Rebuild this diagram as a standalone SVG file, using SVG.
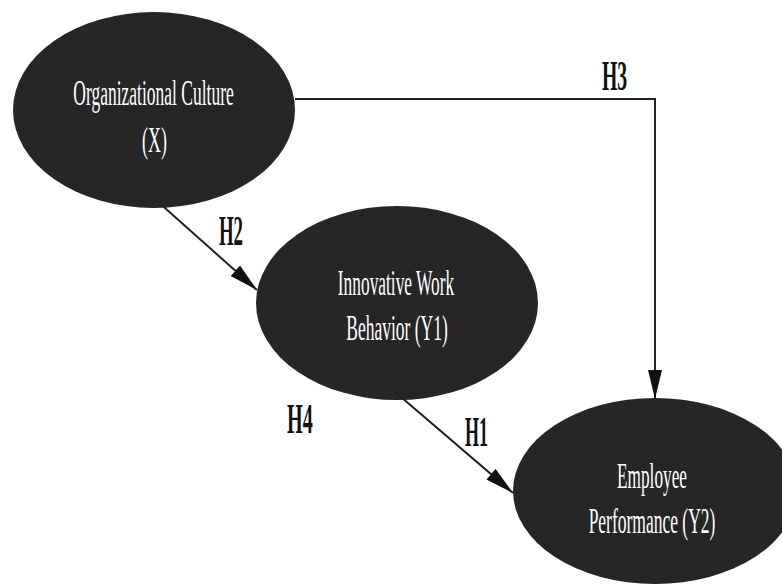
<svg xmlns="http://www.w3.org/2000/svg" width="782" height="585" viewBox="0 0 782 585">
<style>
.node{fill:#262626}
.nt{font-family:"Liberation Serif","Times New Roman",serif;font-size:35px;fill:#ffffff;text-anchor:middle}
.lbl{font-family:"Liberation Serif","Times New Roman",serif;font-size:42px;font-weight:bold;fill:#111111;text-anchor:middle}
.edge{fill:none;stroke:#222222;stroke-width:2}
</style>
<defs>
<marker id="arr" markerUnits="userSpaceOnUse" markerWidth="30" markerHeight="16" refX="29" refY="7" orient="auto">
<path d="M0,0 L29,7 L0,14 z" fill="#111111"/>
</marker>
</defs>
<rect width="782" height="585" fill="#ffffff"/>
<g id="node-x">
<ellipse class="node" cx="154" cy="110" rx="141" ry="98"/>
<text class="nt" transform="translate(153.5,105) scale(0.5,1)">Organizational Culture</text>
<text class="nt" transform="translate(154.5,152) scale(0.51,1)">(X)</text>
</g>
<g id="node-y1">
<ellipse class="node" cx="397" cy="303" rx="141" ry="97"/>
<text class="nt" transform="translate(396,295) scale(0.496,1)">Innovative Work</text>
<text class="nt" transform="translate(397,340) scale(0.5,1)">Behavior (Y1)</text>
</g>
<g id="node-y2">
<ellipse class="node" cx="655" cy="491" rx="142" ry="93"/>
<text class="nt" transform="translate(652,488) scale(0.493,1)">Employee</text>
<text class="nt" transform="translate(652,533) scale(0.5,1)">Performance (Y2)</text>
</g>
<g id="connectors">
<polyline class="edge" points="295,99 655,99 655,399" marker-end="url(#arr)"/>
<line class="edge" x1="147" y1="192" x2="257" y2="290" marker-end="url(#arr)"/>
<line class="edge" x1="387" y1="385" x2="513" y2="493" marker-end="url(#arr)"/>
</g>
<g id="labels">
<text class="lbl" transform="translate(614.5,90) scale(0.47,1)">H3</text>
<text class="lbl" transform="translate(231,245) scale(0.45,1)">H2</text>
<text class="lbl" transform="translate(476.5,446) scale(0.43,1)">H1</text>
<text class="lbl" transform="translate(300,433) scale(0.48,1)">H4</text>
</g>
</svg>
